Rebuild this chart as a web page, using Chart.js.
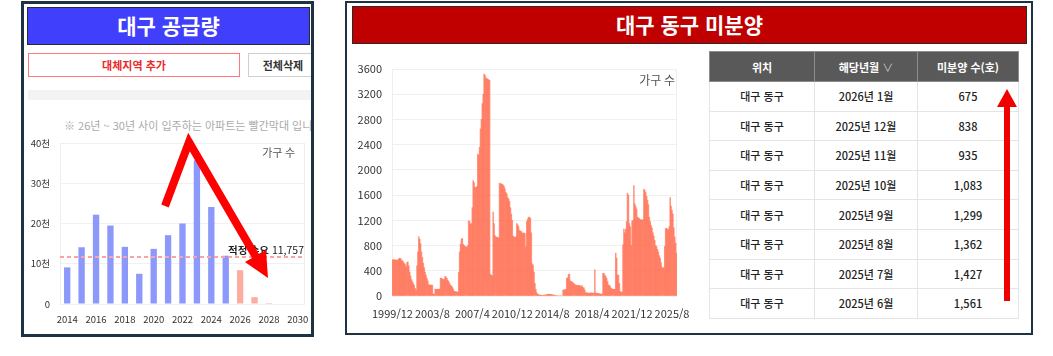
<!DOCTYPE html>
<html lang="ko">
<head>
<meta charset="utf-8">
<script src="https://cdn.jsdelivr.net/npm/chart.js@4.4.1/dist/chart.umd.min.js"></script>
<style>
body { margin:0; width:1053px; height:356px; background:#fff; position:relative; overflow:hidden;
  font-family:"Noto Sans CJK KR","Noto Sans",sans-serif; }
.frame { position:absolute; box-sizing:border-box; background:#fff; overflow:hidden; }
#leftFrame { left:21px; top:1px; width:293px; height:336px; border:3px solid #1f3242; }
#rightFrame { left:345px; top:1px; width:688px; height:334px; border:2px solid #1f3242; }
.titlebar { position:absolute; box-sizing:border-box; border:1px solid #2a2a2a; color:#fff;
  font-weight:700; font-size:21px; text-align:center; line-height:35px; }
.btn { position:absolute; box-sizing:border-box; height:24px; line-height:22px; text-align:center;
  font-size:11px; font-weight:700; background:#fff; }
#note { position:absolute; left:40px; top:113px; font-size:11px; color:#aaa; white-space:nowrap; }
.chartBox { position:absolute; }
table { position:absolute; border-collapse:collapse; font-size:11px; color:#222; table-layout:fixed; }
th { background:#595959; color:#fff; font-weight:700; height:29px; padding:0; border:1px solid #8c8c8c; }
td { height:28.6px; padding:0; text-align:center; border:1px solid #e4e4e4; font-weight:500; }
th .chev { color:#ccc; font-weight:400; }
svg { position:absolute; left:0; top:0; }
</style>
</head>
<body>
<div class="frame" id="leftFrame">
  <div class="titlebar" style="left:3px;top:3px;width:283px;height:38px;background:#4040fc;">대구 공급량</div>
  <div class="btn" style="left:4px;top:49px;width:212px;border:1px solid #ff7878;color:#ea2a2a;">대체지역 추가</div>
  <div class="btn" style="left:224px;top:49px;width:70px;border:1px solid #cfcfcf;color:#333;">전체삭제</div>
  <div style="position:absolute;left:4px;top:86px;width:290px;height:10px;background:#f3f3f3;"></div>
  <div id="note">※ 26년 ~ 30년 사이 입주하는 아파트는 빨간막대 입니다.</div>
  <div class="chartBox" style="left:0;top:129px;width:287px;height:200px;"><canvas id="supplyChart"></canvas></div>
</div>
<div class="frame" id="rightFrame">
  <div class="titlebar" style="left:5px;top:3px;width:675px;height:38px;background:#c00000;">대구 동구 미분양</div>
  <div class="chartBox" style="left:3px;top:52px;width:345px;height:275px;"><canvas id="unsoldChart"></canvas></div>
  <table id="unsoldTable" style="left:362px;top:48px;width:309px;">
    <colgroup><col style="width:105px"><col style="width:103px"><col style="width:101px"></colgroup>
    <thead><tr><th>위치</th><th>해당년월 <span class="chev">∨</span></th><th>미분양 수(호)</th></tr></thead>
    <tbody></tbody>
  </table>
</div>
<svg width="1053" height="356">
  <polyline points="165,206 189,142 256,257" fill="none" stroke="#ff0000" stroke-width="8" stroke-linejoin="miter"/>
  <polygon points="268,278 266,250 245,262" fill="#ff0000"/>
  <line x1="1007" y1="301" x2="1007" y2="104" stroke="#f00000" stroke-width="6"/>
  <polygon points="997,107 1017,107 1007,89" fill="#f00000"/>
</svg>
<script>
// 대구 공급량 (세대)
const supplyYears = ['2014','2015','2016','2017','2018','2019','2020','2021','2022','2023','2024','2025','2026','2027','2028','2029','2030'];
const supplyValues = [9100,14100,22200,19500,14200,7500,13700,17100,20000,35700,24100,12000,8400,1700,250,0,0];
const futureFromYear = 2026;
const demandLevel = 11757;

// 대구 동구 미분양, 1999/12 ~ 2026/1 (monthly)
const unsoldValues = [
  575,
  575,575,575,570,570,575,590,600,595,570,560,540,          // 2000
  520,500,460,530,540,480,380,320,260,230,200,170,          // 2001
  120,90,480,700,940,900,830,700,610,520,450,380,           // 2002
  330,280,240,180,175,170,175,170,30,30,110,105,            // 2003
  105,110,105,110,285,280,270,260,270,310,300,280,          // 2004
  250,230,200,170,160,140,110,80,70,70,65,60,               // 2005
  375,700,825,900,915,820,800,790,780,770,800,1195,         // 2006
  1180,1140,1150,1400,1830,1800,1725,1720,1740,2250,2230,2360, // 2007
  2650,2800,3050,3200,3520,3500,3460,3450,3440,3430,3420,340,  // 2008
  330,320,1330,1150,960,940,930,930,920,1790,1780,1780,     // 2009
  1770,1760,1740,1700,1645,1620,1560,1540,1500,1400,1300,1200, // 2010
  950,940,930,940,1150,1130,1100,1040,1030,1020,1000,995,   // 2011
  1000,990,780,1180,1220,1250,1250,1230,1000,510,490,380,   // 2012
  200,100,50,30,20,15,15,12,12,12,15,15,                    // 2013
  20,25,25,28,28,25,25,20,20,15,10,5,                       // 2014
  0,0,0,0,0,0,0,95,95,100,100,280,                          // 2015
  290,345,345,240,230,225,210,200,180,175,170,165,          // 2016
  170,165,160,150,165,135,130,95,50,50,50,45,               // 2017
  45,45,50,45,45,45,415,50,45,40,40,35,                     // 2018
  30,30,30,360,360,330,310,280,230,175,170,150,             // 2019
  120,110,105,105,105,680,600,335,330,200,70,65,            // 2020
  60,810,1060,1000,1060,1180,1630,1600,1150,1100,800,1190,  // 2021
  1200,1750,1460,1420,1380,1250,1240,1230,1210,1210,1200,1210, // 2022
  1690,1680,1640,1580,1520,1450,1250,1180,1120,1080,1000,950,  // 2023
  880,800,785,740,700,640,600,530,460,440,450,785,          // 2024
  1070,1075,1060,1050,1100,1561,1427,1362,1299,1083,935,838, // 2025
  675                                                       // 2026/1
];
const unsoldLabels = unsoldValues.map(function (v, i) {
  var m = 11 + i;
  return (1999 + Math.floor(m / 12)) + '/' + (m % 12 + 1);
});
const unsoldLabelStep = 44;

const tableRegion = ['대구 동구','대구 동구','대구 동구','대구 동구','대구 동구','대구 동구','대구 동구','대구 동구'];
const tableMonth = ['2026년 1월','2025년 12월','2025년 11월','2025년 10월','2025년 9월','2025년 8월','2025년 7월','2025년 6월'];
const tableCount = ['675','838','935','1,083','1,299','1,362','1,427','1,561'];

var tbody = document.querySelector('#unsoldTable tbody');
tableMonth.forEach(function (m, i) {
  var tr = document.createElement('tr');
  [tableRegion[i], m, tableCount[i]].forEach(function (t) {
    var td = document.createElement('td');
    td.textContent = t;
    tr.appendChild(td);
  });
  tbody.appendChild(tr);
});

Chart.defaults.font.family = '"Noto Sans CJK KR", "Noto Sans", sans-serif';
Chart.defaults.animation = false;

// keep the plot box where the layout padding puts it
function noEdgePadding(s) {
  s.paddingTop = 0; s.paddingBottom = 0; s.paddingLeft = 0; s.paddingRight = 0;
}

const sideLines = {
  id: 'sideLines',
  beforeDatasetsDraw(chart) {
    const a = chart.chartArea, c = chart.ctx;
    c.save();
    c.strokeStyle = '#eeeeee';
    c.lineWidth = 1;
    c.beginPath();
    c.moveTo(Math.round(a.left) + 0.5, a.top);
    c.lineTo(Math.round(a.left) + 0.5, a.bottom);
    c.moveTo(Math.round(a.right) - 0.5, a.top);
    c.lineTo(Math.round(a.right) - 0.5, a.bottom);
    c.stroke();
    c.restore();
  }
};

const unitLabel = {
  id: 'unitLabel',
  afterDraw(chart, args, opts) {
    if (!opts.text) return;
    const a = chart.chartArea, c = chart.ctx;
    c.save();
    c.font = opts.font;
    c.fillStyle = opts.color;
    c.textAlign = 'right';
    c.textBaseline = 'middle';
    c.fillText(opts.text, a.right - opts.dx, a.top + opts.dy);
    c.restore();
  }
};

const demandLine = {
  id: 'demandLine',
  afterDatasetsDraw(chart) {
    if (chart.canvas.id !== 'supplyChart') return;
    const a = chart.chartArea, c = chart.ctx;
    const y = Math.round(chart.scales.y.getPixelForValue(demandLevel));
    c.save();
    c.strokeStyle = '#f9a3a3';
    c.lineWidth = 2;
    c.setLineDash([4, 3]);
    c.beginPath();
    c.moveTo(a.left, y);
    c.lineTo(a.right, y);
    c.stroke();
    c.setLineDash([]);
    c.textBaseline = 'bottom';
    c.textAlign = 'right';
    c.fillStyle = '#222';
    var num = demandLevel.toLocaleString('en-US');
    c.font = '400 10.5px "Noto Sans CJK KR"';
    c.fillText(num, a.right - 1, y - 2);
    var w = c.measureText(' ' + num).width;
    c.font = '700 10.5px "Noto Sans CJK KR"';
    c.fillText('적정 수요', a.right - 1 - w, y - 2);
    c.restore();
  }
};

new Chart(document.getElementById('supplyChart'), {
  type: 'bar',
  data: {
    labels: supplyYears,
    datasets: [{
      data: supplyValues,
      backgroundColor: supplyYears.map(function (y) { return Number(y) >= futureFromYear ? '#fbaea0' : '#8d99fa'; }),
      barPercentage: 0.44,
      categoryPercentage: 1
    }]
  },
  options: {
    responsive: true,
    maintainAspectRatio: false,
    layout: { padding: { top: 10, right: 6, left: 0, bottom: 0 } },
    plugins: {
      legend: { display: false },
      tooltip: { enabled: false },
      unitLabel: { text: '가구 수', font: '11px "Noto Sans CJK KR"', color: '#555', dx: 10, dy: 10 }
    },
    scales: {
      x: {
        grid: { display: false, drawTicks: false },
        border: { display: false },
        ticks: {
          autoSkip: false, maxRotation: 0, padding: 10, color: '#333',
          font: { size: 9.5 },
          callback: function (v, i) { return i % 2 === 0 ? this.getLabelForValue(v) : ''; }
        },
        afterFit: function (s) { s.height = 29; noEdgePadding(s); }
      },
      y: {
        min: 0, max: 40000,
        grid: { color: '#f0f0f0', drawTicks: false },
        border: { display: false },
        ticks: {
          stepSize: 10000, padding: 10, color: '#333', font: { size: 9.5 },
          callback: function (v) { return v === 0 ? '0' : (v / 1000) + '천'; }
        },
        afterFit: function (s) { s.width = 36; noEdgePadding(s); }
      }
    }
  },
  plugins: [sideLines, unitLabel, demandLine]
});

new Chart(document.getElementById('unsoldChart'), {
  type: 'bar',
  data: {
    labels: unsoldLabels,
    datasets: [{
      data: unsoldValues,
      backgroundColor: 'rgba(255,100,70,0.68)',
      borderWidth: 0,
      barPercentage: 1,
      categoryPercentage: 1
    }]
  },
  options: {
    responsive: true,
    maintainAspectRatio: false,
    layout: { padding: { top: 14, right: 18, left: 0, bottom: 0 } },
    plugins: {
      legend: { display: false },
      tooltip: { enabled: false },
      unitLabel: { text: '가구 수', font: '12px "Noto Sans CJK KR"', color: '#555', dx: 2, dy: 11 }
    },
    scales: {
      x: {
        grid: { display: false, drawTicks: false },
        border: { display: false },
        ticks: {
          autoSkip: false, maxRotation: 0, minRotation: 0, padding: 11, color: '#333',
          font: { size: 11 },
          callback: function (v, i) { return i % unsoldLabelStep === 0 ? this.getLabelForValue(v) : ''; }
        },
        afterFit: function (s) { s.height = 34; noEdgePadding(s); }
      },
      y: {
        min: 0, max: 3600,
        grid: { color: '#f0f0f0', drawTicks: false },
        border: { display: false },
        ticks: {
          stepSize: 400, padding: 10, color: '#333', font: { size: 11 },
          callback: function (v) { return String(v); }
        },
        afterFit: function (s) { s.width = 42; noEdgePadding(s); }
      }
    }
  },
  plugins: [sideLines, unitLabel]
});
</script>
</body>
</html>
